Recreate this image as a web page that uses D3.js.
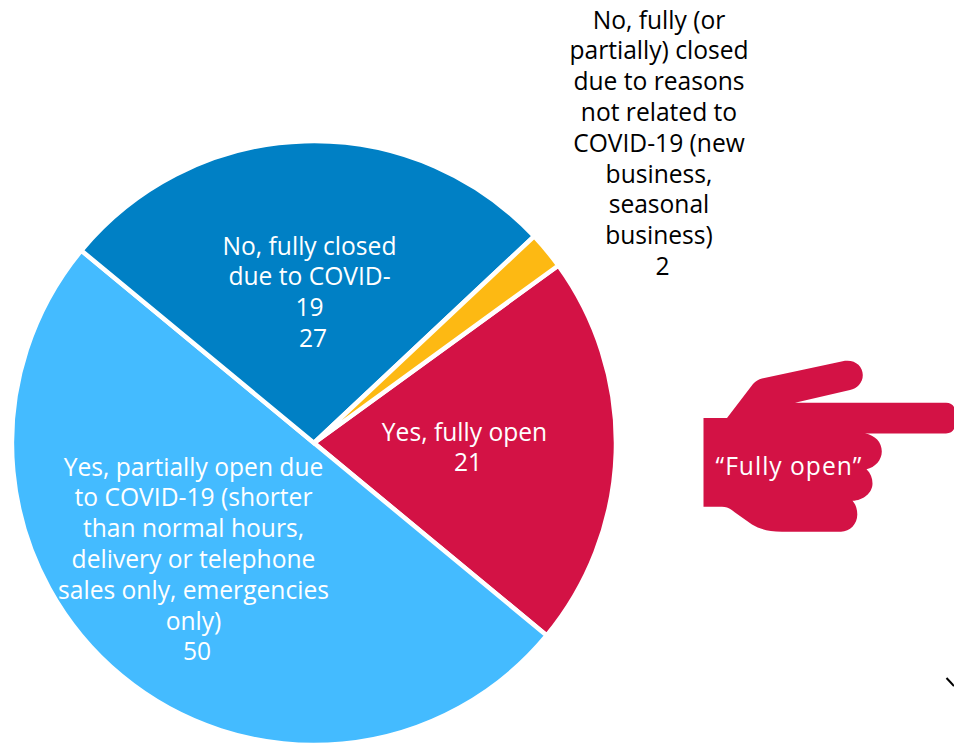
<!DOCTYPE html>
<html>
<head>
<meta charset="utf-8">
<script src="https://cdn.jsdelivr.net/npm/d3@7"></script>
<style>
  html, body { margin: 0; padding: 0; background: #fff; }
  svg { display: block; }
  text { font-family: "Open Sans", "Noto Sans", sans-serif; font-size: 24.6px; }
</style>
</head>
<body>
<svg id="chart" width="954" height="744"></svg>
<script>
// Survey shares, in the clockwise order of the slices
const categories = [
  "Yes, fully open",
  "Yes, partially open due to COVID-19",
  "No, fully closed due to COVID-19",
  "No, fully (or partially) closed, other reasons"
];
const values = [21, 50, 27, 2];
const colors = ["#D31245", "#44BBFF", "#0080C5", "#FDB913"];

// Wrapped label lines for each slice; the value goes on its own line below
const labelLines = [
  ["Yes, fully open"],
  ["Yes, partially open due", "to COVID-19 (shorter", "than normal hours,", "delivery or telephone", "sales only, emergencies", "only)"],
  ["No, fully closed", "due to COVID-", "19"],
  ["No, fully (or", "partially) closed", "due to reasons", "not related to", "COVID-19 (new", "business,", "seasonal", "business)"]
];
const labelCentres = [464.5, 193.5, 309.5, 659];
const labelTops = [432, 467, 246, 20];
const lineStep = 30.8;
const valueNudge = 3.5;

const svg = d3.select("#chart");
const cx = 314, cy = 443, radius = 302;

const pie = d3.pie().sort(null).startAngle(54 * Math.PI / 180).endAngle(414 * Math.PI / 180);
const arc = d3.arc().innerRadius(0).outerRadius(radius);

svg.append("g")
  .attr("transform", `translate(${cx},${cy})`)
  .selectAll("path")
  .data(pie(values))
  .join("path")
  .attr("d", arc)
  .attr("fill", (d, i) => colors[i])
  .attr("stroke", "#fff")
  .attr("stroke-width", 4.5)
  .attr("stroke-linejoin", "miter");

// Slice labels, white on the coloured slices and black outside the pie
const labels = svg.append("g").attr("text-anchor", "middle");
labelLines.forEach((lines, i) => {
  const fill = i === 3 ? "#000" : "#fff";
  lines.forEach((line, j) => {
    labels.append("text")
      .attr("x", labelCentres[i])
      .attr("y", labelTops[i] + j * lineStep)
      .attr("dy", "0.35em")
      .attr("fill", fill)
      .text(line);
  });
  labels.append("text")
    .attr("x", labelCentres[i] + valueNudge)
    .attr("y", labelTops[i] + lines.length * lineStep)
    .attr("dy", "0.35em")
    .attr("fill", fill)
    .text(values[i]);
});

// Pointing-hand callout
const hand = d3.path();
hand.moveTo(703.5, 418);
hand.lineTo(727, 418);
hand.lineTo(753, 384);
hand.quadraticCurveTo(757, 379.5, 762, 378.5);
hand.lineTo(845, 360.8);
hand.bezierCurveTo(855, 359.5, 862.8, 366, 862.8, 375);
hand.bezierCurveTo(862.8, 383, 857, 388.5, 850, 390);
hand.lineTo(795, 402.8);
hand.lineTo(946, 402.8);
hand.quadraticCurveTo(952, 403, 954, 407);
hand.lineTo(954, 429);
hand.quadraticCurveTo(952, 433.2, 946, 433.4);
hand.lineTo(865, 433.4);
hand.bezierCurveTo(875, 435, 881.8, 442, 881.8, 451.5);
hand.bezierCurveTo(881.8, 460, 875, 467.5, 866.5, 469.3);
hand.bezierCurveTo(870.5, 473, 872.5, 478, 872.5, 483.5);
hand.bezierCurveTo(872.5, 493, 863, 500.5, 852.5, 500.8);
hand.bezierCurveTo(855.5, 504, 857.3, 509, 857.3, 514.5);
hand.bezierCurveTo(857.3, 524, 850, 531.7, 841, 531.7);
hand.lineTo(782, 531.7);
hand.bezierCurveTo(768, 531.7, 760, 529, 752, 524.5);
hand.lineTo(735, 512.5);
hand.bezierCurveTo(730, 508.5, 727, 506.8, 722, 506.8);
hand.lineTo(703.5, 506.8);
hand.closePath();

svg.append("path").attr("d", hand.toString()).attr("fill", colors[0]);

svg.append("text")
  .attr("x", 789)
  .attr("y", 466)
  .attr("dy", "0.35em")
  .attr("text-anchor", "middle")
  .attr("fill", "#fff")
  .attr("letter-spacing", 1)
  .text("\u201CFully open\u201D");

// Short stroke at the lower right edge
svg.append("path")
  .attr("d", d3.line()([[946.5, 678], [954, 686]]))
  .attr("stroke", "#000")
  .attr("stroke-width", 2)
  .attr("fill", "none");
</script>
</body>
</html>
